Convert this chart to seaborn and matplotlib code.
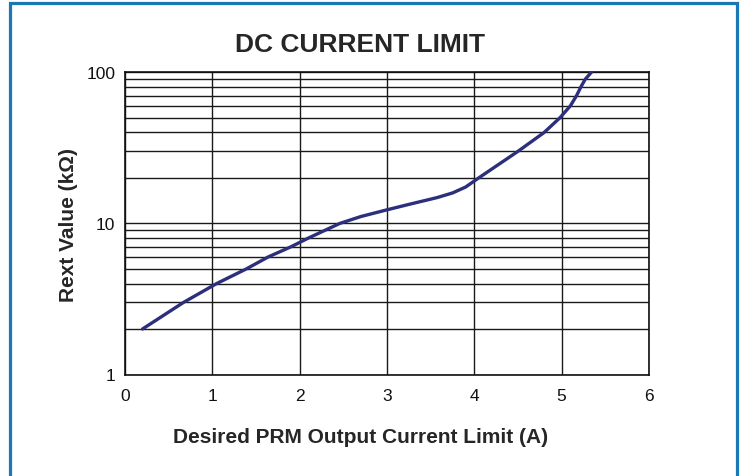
import matplotlib
matplotlib.use("Agg")
import matplotlib.pyplot as plt
from matplotlib.patches import Rectangle
from matplotlib.ticker import LogLocator, FixedLocator, NullFormatter
import seaborn as sns
import pandas as pd

# Data
current_a = [0.2, 0.67, 1.05, 1.39, 1.64, 1.9, 2.1, 2.29, 2.46, 2.7, 3.0, 3.26, 3.57,
             3.75, 3.9, 4.05, 4.5, 4.8, 4.98, 5.1, 5.17, 5.22, 5.27, 5.34]
rext_kohm = [2.0, 3.0, 4.0, 5.0, 6.0, 7.0, 8.0, 9.0, 10.0, 11.1, 12.3, 13.4, 14.8,
             15.9, 17.4, 20.0, 30.0, 40.0, 50.0, 60.0, 70.0, 80.0, 90.0, 100.0]
x_ticks = [0, 1, 2, 3, 4, 5, 6]
y_ticks = [1, 10, 100]
y_tick_labels = ["1", "10", "100"]

sns.set_style("white")
plt.rcParams['font.family'] = ['Liberation Sans', 'DejaVu Sans']

W, H = 743, 477
fig = plt.figure(figsize=(W / 100, H / 100), dpi=100)
ax = fig.add_axes([125 / W, 1 - 375.5 / H, (649 - 125) / W, (375.5 - 73.3) / H])

df = pd.DataFrame({"current": current_a, "rext": rext_kohm})
sns.lineplot(data=df, x="current", y="rext", ax=ax, color="#2b2f7c", linewidth=2.4, zorder=5)

ax.set_yscale("log")
ax.set_xlim(0, 6)
ax.set_ylim(1, 100)
ax.xaxis.set_major_locator(FixedLocator(x_ticks))
ax.set_xticks(x_ticks)
ax.set_xticklabels([str(t) for t in x_ticks])
ax.set_yticks(y_ticks)
ax.set_yticklabels(y_tick_labels)
ax.yaxis.set_minor_locator(LogLocator(base=10, subs=range(2, 10)))
ax.yaxis.set_minor_formatter(NullFormatter())

ax.grid(True, which="major", axis="both", color="#1a1a1a", linewidth=1.0)
ax.grid(True, which="minor", axis="y", color="#1a1a1a", linewidth=1.0)
ax.tick_params(axis="both", which="both", length=0, labelsize=12.5, colors="#111111")
ax.tick_params(axis="x", pad=10)
ax.tick_params(axis="y", pad=7)
for s in ax.spines.values():
    s.set_color("#111111")
    s.set_linewidth(1.2)

ax.set_xlabel("")
ax.set_ylabel("")

fig.text(360 / W, 1 - 45 / H, "DC CURRENT LIMIT", ha="center", va="center",
         fontsize=19, fontweight="bold")
fig.text(361 / W, 1 - 438 / H, "Desired PRM Output Current Limit (A)", ha="center",
         va="center", fontsize=15, fontweight="bold")
fig.text(69 / W, 1 - 225 / H, "Rext Value (kΩ)", ha="center", va="center",
         rotation=90, fontsize=15, fontweight="bold")

frame = Rectangle((9.5 / W, -0.2), (736.5 - 9.5) / W, 1.2 - 3.5 / H,
                  transform=fig.transFigure, fill=False, edgecolor="#1a78b4",
                  linewidth=2.3, zorder=10)
fig.patches.append(frame)

fig.savefig("out.png", dpi=100)
